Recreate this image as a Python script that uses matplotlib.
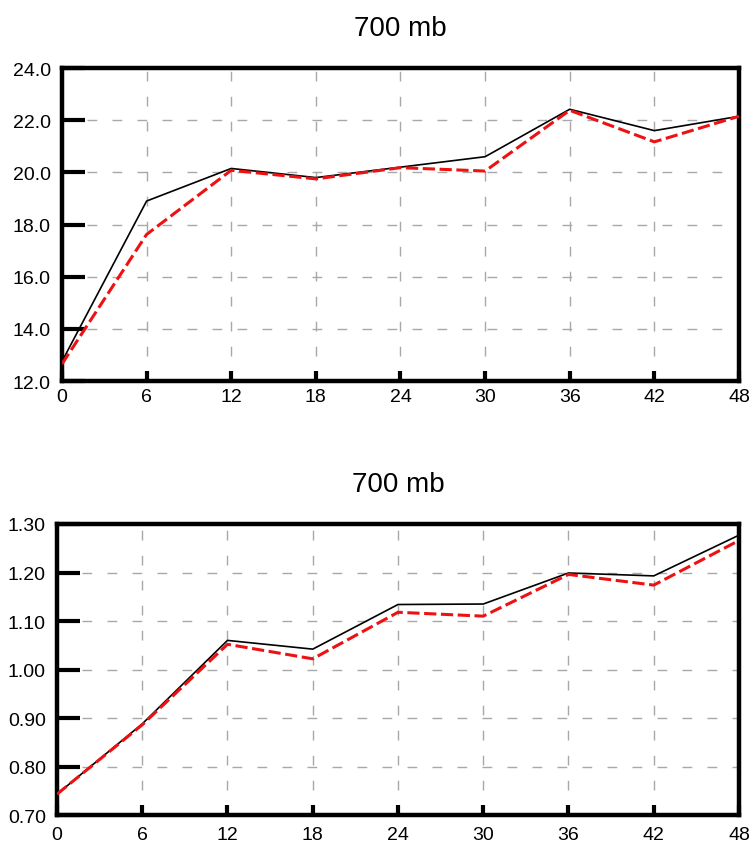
import numpy as np
from matplotlib import pyplot as plt

plt.rcParams['font.family'] = ['Liberation Sans', 'DejaVu Sans']

hours = [0, 6, 12, 18, 24, 30, 36, 42, 48]

# upper panel
top_black = [12.75, 18.9, 20.15, 19.8, 20.2, 20.6, 22.42, 21.6, 22.15]
top_red = [12.65, 17.62, 20.08, 19.75, 20.18, 20.05, 22.38, 21.17, 22.15]

# lower panel
bot_black = [0.743, 0.888, 1.06, 1.042, 1.134, 1.135, 1.199, 1.193, 1.277]
bot_red = [0.743, 0.886, 1.052, 1.022, 1.118, 1.110, 1.196, 1.174, 1.266]

title = '700 mb'

fig = plt.figure(figsize=(7.52, 8.45), dpi=100)
ax1 = fig.add_axes([0.0824, 0.5479, 0.9003, 0.3704])
ax2 = fig.add_axes([0.0758, 0.0343, 0.9069, 0.3444])


def style(ax, black, red, ylim, yticks, yfmt, xpad):
    ax.plot(hours, black, color='black', lw=1.2, zorder=3)
    ax.plot(hours, red, color='#ee1111', lw=2.2,
            dashes=(4, 1.5), zorder=4)
    ax.set_xlim(0, 48)
    ax.set_ylim(*ylim)
    ax.set_xticks(hours)
    ax.set_yticks(yticks)
    ax.set_yticklabels([yfmt % v for v in yticks])
    ax.grid(True, color='#a8a8a8', lw=1.0, dashes=(7, 11))
    for s in ax.spines.values():
        s.set_linewidth(3.2)
    ax.tick_params(axis='y', direction='in', length=16.5, width=3,
                   pad=8, labelsize=14)
    ax.tick_params(axis='x', direction='in', length=7, width=3,
                   pad=xpad, labelsize=14)
    ax.set_title(title, fontsize=20, pad=24)


style(ax1, top_black, top_red, (12, 24), np.arange(12, 24.1, 2), '%.1f', 5)
style(ax2, bot_black, bot_red, (0.70, 1.30), np.arange(0.70, 1.301, 0.1),
      '%.2f', 8)

plt.savefig('out.png', dpi=100)
